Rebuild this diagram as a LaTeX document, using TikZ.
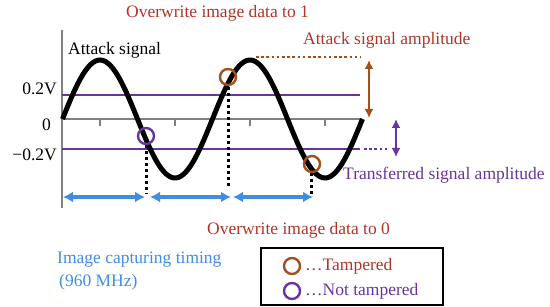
\documentclass[tikz,border=0pt]{standalone}
\usepackage{fontspec}
\setmainfont{Liberation Serif}
\usetikzlibrary{arrows.meta}
\definecolor{atkred}{RGB}{178,52,40}
\definecolor{ampbrown}{RGB}{160,80,30}
\definecolor{trpurple}{RGB}{104,52,160}
\definecolor{capblue}{RGB}{62,142,226}
\definecolor{axgray}{RGB}{128,128,128}
\tikzset{
	lbl/.style={inner sep=0pt,font=\fontsize{17.5}{20}\selectfont},
	mark circle/.style={circle,draw,line width=2.4pt,minimum size=16pt,inner sep=0pt},
	timing/.style={capblue,line width=3.2pt,{Latex[length=10pt,width=11pt]}-{Latex[length=10pt,width=11pt]}},
	sample/.style={black,line width=3pt,dash pattern=on 3pt off 3pt}
}
\begin{document}
\begin{tikzpicture}[x=1pt,y=-1pt]
		\useasboundingbox (0,0) rectangle (550,307);
		%axes
		\draw[axgray,line width=2.6pt] (62,30) -- (62,208);
		\draw[axgray,line width=2.6pt] (62,119) -- (362,119);
		\foreach \t in {100,175,250,325}
			\draw[axgray,line width=2.6pt] (\t,119) -- (\t,126);
		\draw[trpurple,line width=2.6pt] (62,95) -- (360,95);
		\draw[trpurple,line width=2.6pt] (62,149) -- (360,149);
		\node[lbl,anchor=east] (hiV) at (57,89) {0.2V};
		\node[lbl,anchor=east] (zeroV) at (51,125) {0};
		\node[lbl,anchor=east] (loV) at (57,155) {−0.2V};
		%signal
		\draw[black,line width=5pt] plot[domain=62.5:362.5,samples=120] (\x,{119-59*sin(2.4*(\x-62.5))});
		\node[lbl,anchor=west] (atkSig) at (68,50) {Attack signal};
		%sampling points
		\node[mark circle,trpurple] (okPt) at (146,136) {};
		\node[mark circle,ampbrown] (hitOne) at (228,77) {};
		\node[mark circle,ampbrown] (hitZero) at (312,164) {};
		\draw[sample] (146,145) -- (146,194);
		\draw[sample] (228,87) -- (228,186);
		\draw[sample] (311,173) -- (311,194);
		%timing
		\coordinate (tA) at (63,197);
		\coordinate (tB) at (145,197);
		\coordinate (tC) at (150,197);
		\coordinate (tD) at (231,197);
		\coordinate (tE) at (233,197);
		\coordinate (tF) at (313,197);
		\draw[timing] (tA) -- (tB);
		\draw[timing] (tC) -- (tD);
		\draw[timing] (tE) -- (tF);
		%amplitudes
		\coordinate (atkTop) at (256,57);
		\coordinate (atkEnd) at (361,57);
		\draw[ampbrown,line width=2.6pt,dash pattern=on 2.6pt off 2.6pt] (atkTop) -- (atkEnd);
		\coordinate (arA) at (369,60);
		\coordinate (arB) at (369,118);
		\draw[ampbrown,line width=2.6pt,{Latex[length=9pt,width=9pt]}-{Latex[length=9pt,width=9pt]}] (arA) -- (arB);
		\coordinate (trBeg) at (364,149);
		\coordinate (trEnd) at (388,149);
		\draw[trpurple,line width=2.6pt,dash pattern=on 2.6pt off 2.6pt] (trBeg) -- (trEnd);
		\coordinate (apA) at (396,119);
		\coordinate (apB) at (396,157);
		\draw[trpurple,line width=2.6pt,{Latex[length=9pt,width=9pt]}-{Latex[length=9pt,width=9pt]}] (apA) -- (apB);
		\node[lbl,anchor=west,atkred] (atkAmp) at (303,40) {Attack signal amplitude};
		\node[lbl,anchor=west,trpurple] (trAmp) at (343,175) {Transferred signal amplitude};
		%texts
		\node[lbl,anchor=west,atkred] (toOne) at (126,13) {Overwrite image data to 1};
		\node[lbl,anchor=west,atkred] (toZero) at (207,230) {Overwrite image data to 0};
		\node[lbl,anchor=west,capblue] (capT) at (57,260) {Image capturing timing};
		\node[lbl,anchor=west,capblue] (capF) at (59,282) {(960 MHz)};
		%legend
		\draw[black,line width=1.8pt] (261,248) rectangle (443,305);
		\node[mark circle,ampbrown] (lgHit) at (292,266) {};
		\node[lbl,anchor=west,atkred] (lgHitT) at (305,266) {…Tampered};
		\node[mark circle,trpurple] (lgOk) at (292,291) {};
		\node[lbl,anchor=west,trpurple] (lgOkT) at (305,291) {…Not tampered};
	\end{tikzpicture}
\end{document}
